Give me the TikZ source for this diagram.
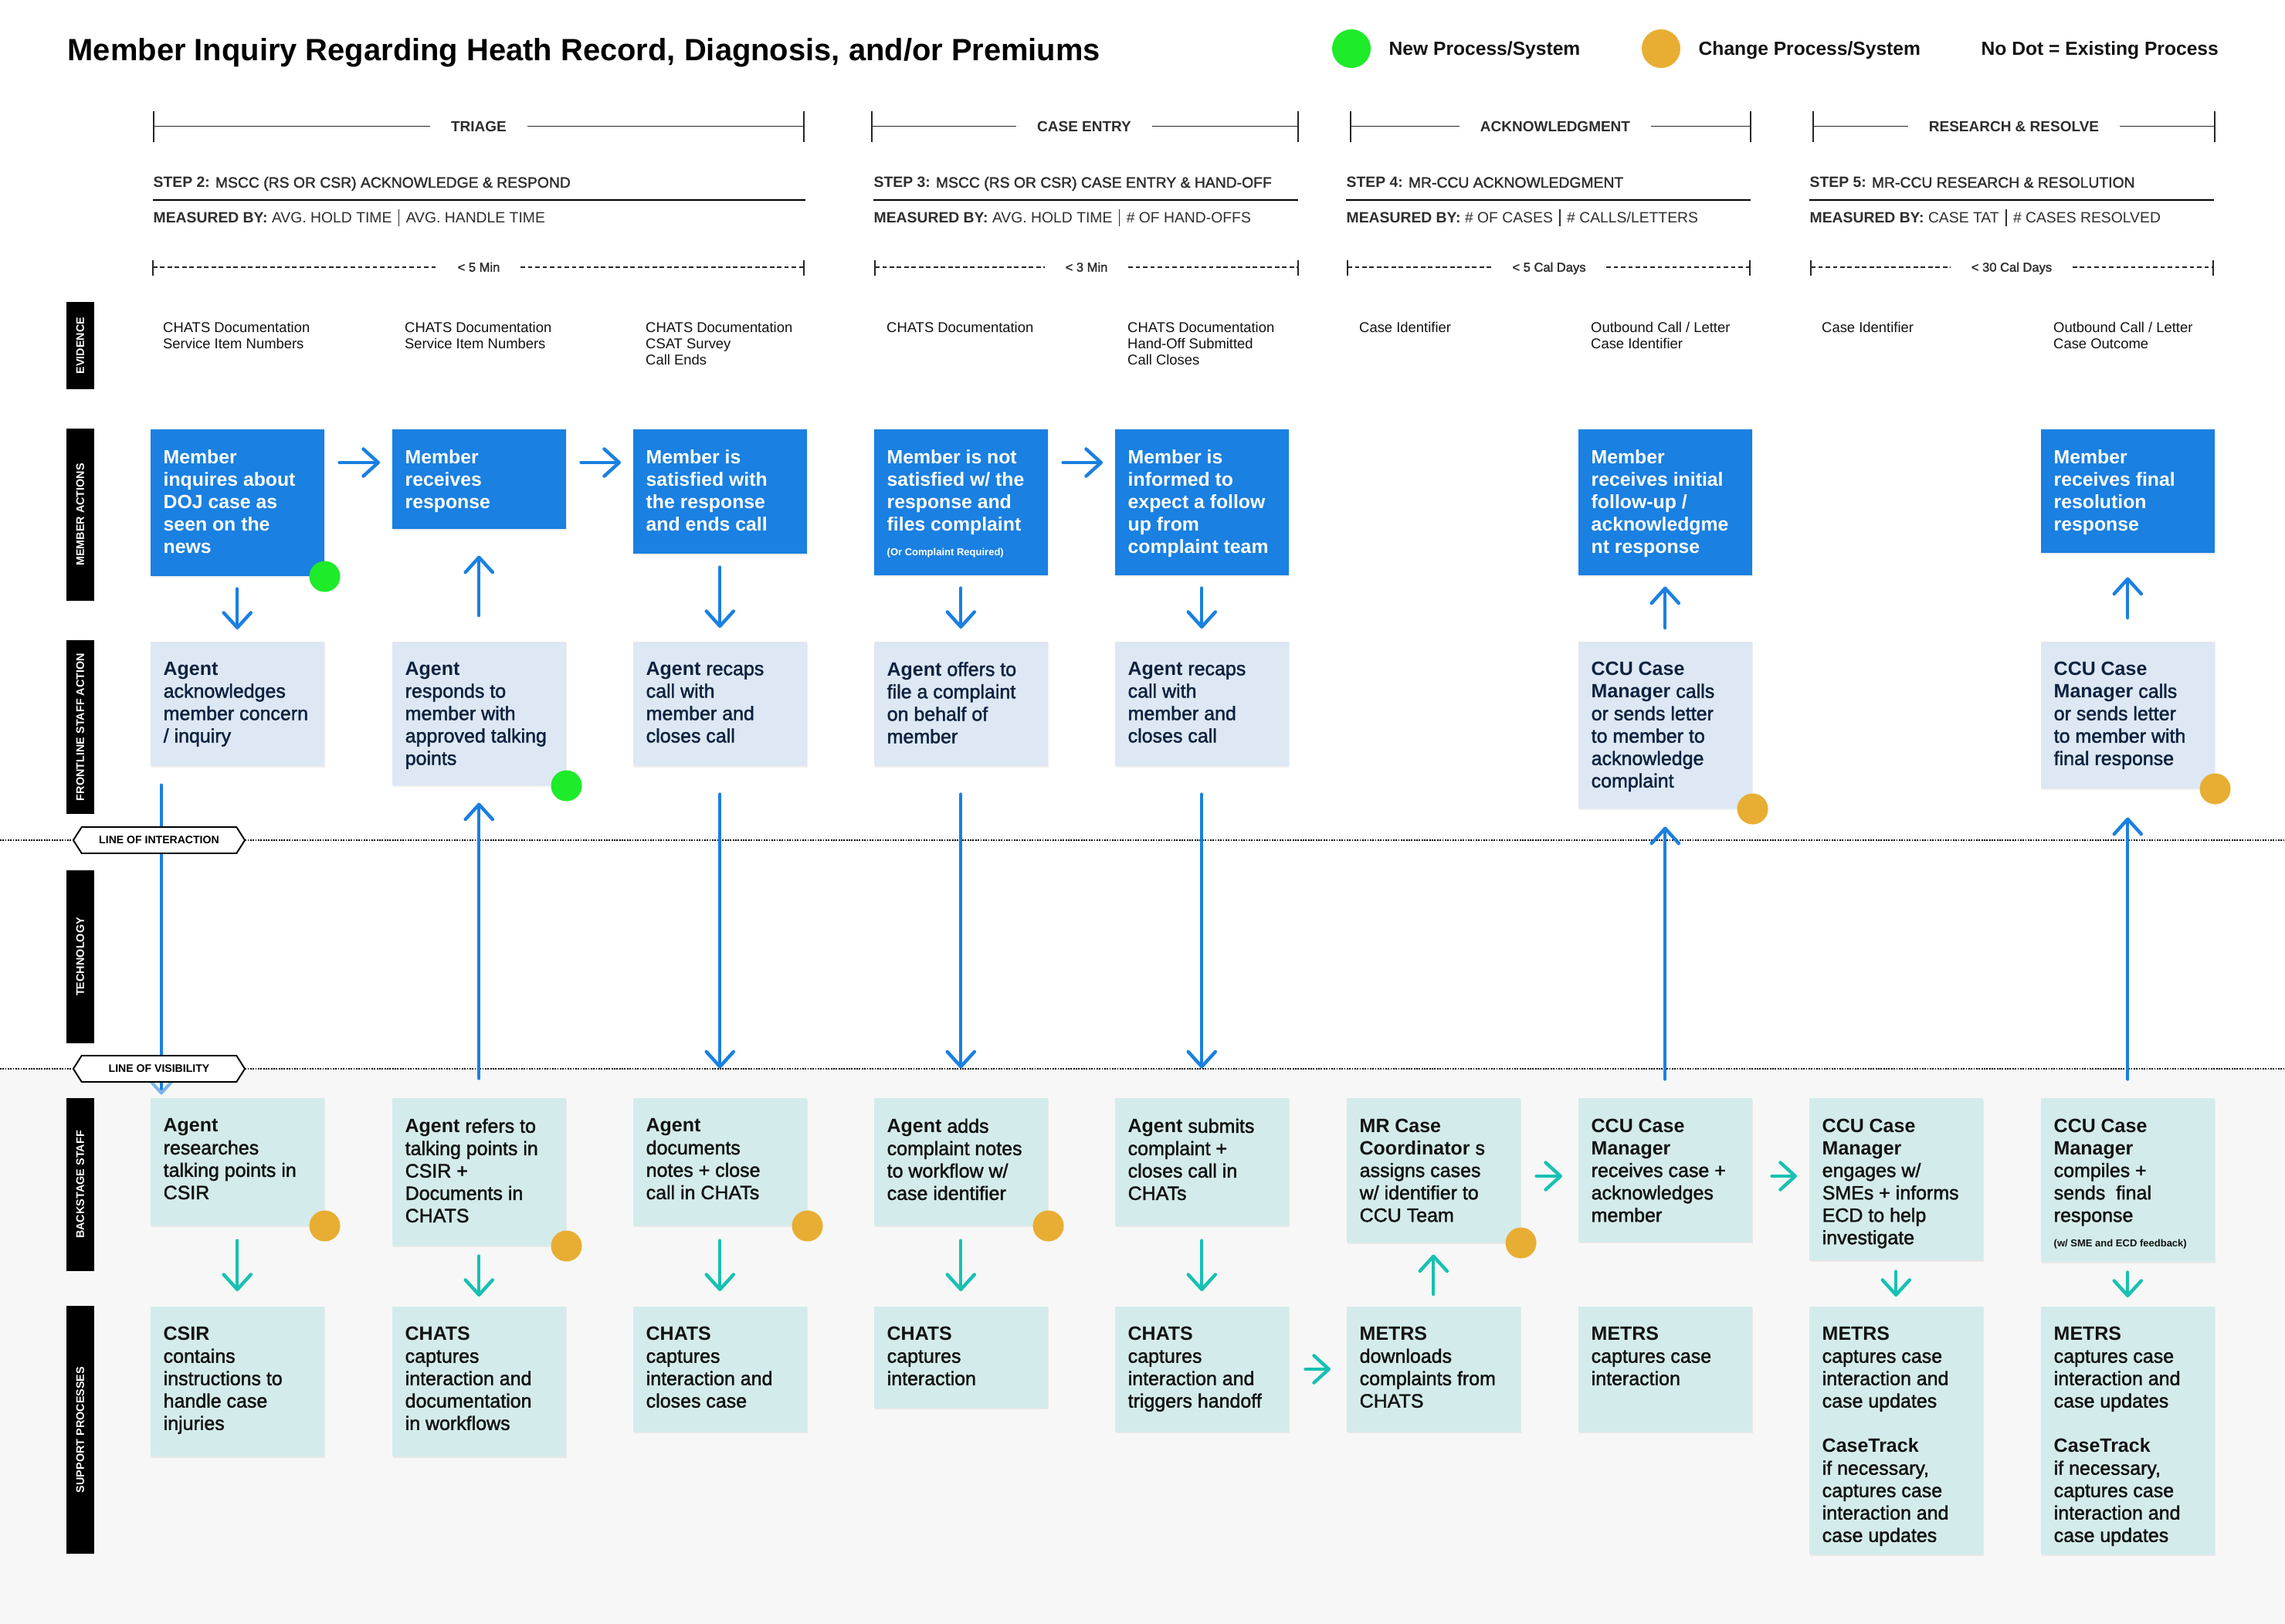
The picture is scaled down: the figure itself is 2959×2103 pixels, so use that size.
\documentclass[tikz,border=0pt]{standalone}
\usepackage{fontspec}
\setmainfont{Liberation Sans}
\newfontfamily\medium{Liberation Sans}[FakeBold=1.7]
\usetikzlibrary{arrows.meta,shapes.symbols,shadows}

\definecolor{memblue}{HTML}{1A80E1}
\definecolor{frontbg}{HTML}{DDE8F4}
\definecolor{backbg}{HTML}{D3ECEB}
\definecolor{flowteal}{HTML}{17C1B3}
\definecolor{tiplight}{HTML}{7DB4EB}
\definecolor{newgreen}{HTML}{1EEB2A}
\definecolor{chgorange}{HTML}{E8AE33}
\definecolor{navytext}{HTML}{0D2240}
\definecolor{inktext}{HTML}{121212}
\definecolor{softgray}{HTML}{F7F7F7}
\definecolor{headgray}{HTML}{2E2E2E}

\newcommand\fsz[2]{\fontsize{#1}{#2}\selectfont}
\newcommand\ld[1]{{\normalfont\bfseries #1}}
\newcommand\barsep{\hspace{2.4pt}\rule[-1.3pt]{0.4pt}{6pt}\hspace{2.4pt}}

\begin{document}
\begin{tikzpicture}[x=0.01cm,y=-0.01cm,
  boxbase/.style={anchor=north west, minimum width=2.25cm, inner sep=0,
    drop shadow={opacity=0.12, shadow xshift=0.3pt, shadow yshift=-0.5pt}},
  memberbox/.style={boxbase, fill=memblue},
  frontbox/.style={boxbase, fill=frontbg},
  backbox/.style={boxbase, fill=backbg},
  boxtext/.style={anchor=north west, inner sep=0, align=left, font=\medium\fsz{7.1}{8.25}},
  membertext/.style={boxtext, text=white, font=\bfseries\fsz{7.05}{8.25}},
  fronttext/.style={boxtext, text=navytext},
  backtext/.style={boxtext, text=inktext},
  smalltext/.style={anchor=base west, inner sep=0, font=\bfseries\fsz{3.7}{4.5}},
  flow/.style={line width=1.25pt, line cap=round,
    -{Straight Barb[length=5.5pt,width=10pt,line width=1.25pt,round]}},
  blueflow/.style={flow, draw=memblue},
  tealflow/.style={flow, draw=flowteal},
  dot/.style={circle, inner sep=0, minimum size=0.4cm},
  lane/.style={fill=black, text=white, rotate=90, minimum height=0.36cm, inner sep=0,
    font=\bfseries\fsz{4.1}{5}},
  hexlabel/.style={signal, signal to=east and west, signal pointer angle=115,
    draw=black, line width=0.55pt, fill=white, minimum width=2.22cm,
    minimum height=0.34cm, inner sep=0, font=\bfseries\fsz{4}{5}},
  dotline/.style={line width=0.6pt, dash pattern=on 0.5pt off 0.45pt},
  phase/.style={inner xsep=0.26cm, inner ysep=0, text height=0.135cm, text depth=0pt,
    font=\bfseries\fsz{5.4}{6}, text=headgray},
  duration/.style={inner xsep=0.26cm, inner ysep=0, text height=0.115cm, text depth=0pt,
    font=\medium\fsz{4.7}{5}, text=headgray},
  bracket/.style={line width=0.4pt, draw=black!85},
  dashrule/.style={line width=0.5pt, dash pattern=on 1.6pt off 1.1pt, draw=black!85},
  steptext/.style={anchor=base west, inner sep=0, font=\medium\fsz{5.5}{6.5}, text=headgray},
  measuretext/.style={anchor=base west, inner sep=0, font=\fsz{5.5}{6.5}, text=headgray},
  steprule/.style={line width=0.75pt},
  evidence/.style={anchor=north west, inner sep=0, align=left, font=\fsz{5.24}{6}, text=inktext},
  legendtext/.style={anchor=base west, inner sep=0, font=\bfseries\fsz{7}{8}, text=inktext}
]
\useasboundingbox (0,0) rectangle (2959,2103);
\fill[white] (0,0) rectangle (2959,1384);
\fill[softgray] (0,1384) rectangle (2959,2103);

% ---------- heading and legend ----------
\node[anchor=base west, inner sep=0, font=\bfseries\fsz{11.35}{13}] (title) at (87,79)
  {Member Inquiry Regarding Heath Record, Diagnosis, and/or Premiums};
\node[dot, fill=newgreen, minimum size=0.5cm] (keynew) at (1750,63) {};
\node[legendtext] (keynewtext) at (1798,71.7) {New Process/System};
\node[dot, fill=chgorange, minimum size=0.5cm] (keychg) at (2151,63) {};
\node[legendtext] (keychgtext) at (2199,71.7) {Change Process/System};
\node[legendtext] (keynone) at (2565,71.7) {No Dot = Existing Process};

% ---------- phases ----------
\node[phase] (ph1) at (620,163.5) {TRIAGE};
\draw[bracket] (199,144) -- (199,184) (1041,144) -- (1041,184);
\draw[bracket] (199,163.5) -- (ph1.west) (ph1.east) -- (1041,163.5);
\node[phase] (ph2) at (1404,163.5) {CASE ENTRY};
\draw[bracket] (1129,144) -- (1129,184) (1681,144) -- (1681,184);
\draw[bracket] (1129,163.5) -- (ph2.west) (ph2.east) -- (1681,163.5);
\node[phase] (ph3) at (2014,163.5) {ACKNOWLEDGMENT};
\draw[bracket] (1749,144) -- (1749,184) (2267,144) -- (2267,184);
\draw[bracket] (1749,163.5) -- (ph3.west) (ph3.east) -- (2267,163.5);
\node[phase] (ph4) at (2608,163.5) {RESEARCH \& RESOLVE};
\draw[bracket] (2348,144) -- (2348,184) (2868,144) -- (2868,184);
\draw[bracket] (2348,163.5) -- (ph4.west) (ph4.east) -- (2868,163.5);

% ---------- steps ----------
\node[steptext] (st2) at (198,243) {\ld{STEP 2:} MSCC (RS OR CSR) ACKNOWLEDGE \& RESPOND};
\draw[steprule] (198,259) -- (1043,259);
\node[measuretext] (ms2) at (198,288) {\ld{MEASURED BY:} AVG. HOLD TIME\barsep AVG. HANDLE TIME};
\node[steptext] (st3) at (1131,243) {\ld{STEP 3:} MSCC (RS OR CSR) CASE ENTRY \& HAND-OFF};
\draw[steprule] (1131,259) -- (1681,259);
\node[measuretext] (ms3) at (1131,288) {\ld{MEASURED BY:} AVG. HOLD TIME\barsep \# OF HAND-OFFS};
\node[steptext] (st4) at (1743,243) {\ld{STEP 4:} MR-CCU ACKNOWLEDGMENT};
\draw[steprule] (1743,259) -- (2267,259);
\node[measuretext] (ms4) at (1743,288) {\ld{MEASURED BY:} \# OF CASES\barsep \# CALLS/LETTERS};
\node[steptext] (st5) at (2343,243) {\ld{STEP 5:} MR-CCU RESEARCH \& RESOLUTION};
\draw[steprule] (2343,259) -- (2867,259);
\node[measuretext] (ms5) at (2343,288) {\ld{MEASURED BY:} CASE TAT\barsep \# CASES RESOLVED};

% ---------- target durations ----------
\node[duration] (du2) at (620,346) {< 5 Min};
\draw[bracket] (198,337) -- (198,357) (1041,337) -- (1041,357);
\draw[dashrule] (198,346) -- (du2.west) (du2.east) -- (1041,346);
\node[duration] (du3) at (1407,346) {< 3 Min};
\draw[bracket] (1133,337) -- (1133,357) (1681,337) -- (1681,357);
\draw[dashrule] (1133,346) -- (du3.west) (du3.east) -- (1681,346);
\node[duration] (du4) at (2006,346) {< 5 Cal Days};
\draw[bracket] (1745,337) -- (1745,357) (2266,337) -- (2266,357);
\draw[dashrule] (1745,346) -- (du4.west) (du4.east) -- (2266,346);
\node[duration] (du5) at (2605,346) {< 30 Cal Days};
\draw[bracket] (2345,337) -- (2345,357) (2866,337) -- (2866,357);
\draw[dashrule] (2345,346) -- (du5.west) (du5.east) -- (2866,346);

% ---------- lane labels ----------
\node[lane, minimum width=1.13cm] (laneev) at (104,447.5) {EVIDENCE};
\node[lane, minimum width=2.23cm] (lanemem) at (104,666.5) {MEMBER ACTIONS};
\node[lane, minimum width=2.25cm] (lanefront) at (104,941.5) {FRONTLINE STAFF ACTION};
\node[lane, minimum width=2.24cm] (lanetech) at (104,1239) {TECHNOLOGY};
\node[lane, minimum width=2.24cm] (laneback) at (104,1534) {BACKSTAGE STAFF};
\node[lane, minimum width=3.21cm] (lanesup) at (104,1851.5) {SUPPORT PROCESSES};

% ---------- evidence ----------
\node[evidence] (ev1) at (210.5,416.5) {CHATS Documentation\\Service Item Numbers};
\node[evidence] (ev2) at (523.5,416.5) {CHATS Documentation\\Service Item Numbers};
\node[evidence] (ev3) at (835.5,416.5) {CHATS Documentation\\CSAT Survey\\Call Ends};
\node[evidence] (ev4) at (1147.5,416.5) {CHATS Documentation};
\node[evidence] (ev5) at (1459.5,416.5) {CHATS Documentation\\Hand-Off Submitted\\Call Closes};
\node[evidence] (ev6) at (1759.5,416.5) {Case Identifier};
\node[evidence] (ev7) at (2059.5,416.5) {Outbound Call / Letter\\Case Identifier};
\node[evidence] (ev8) at (2358.5,416.5) {Case Identifier};
\node[evidence] (ev9) at (2658.5,416.5) {Outbound Call / Letter\\Case Outcome};

% ---------- boxes ----------
\node[memberbox, minimum height=1.90cm] (m1) at (194,555) {};
\node[memberbox, minimum height=1.29cm] (m2) at (507,555) {};
\node[memberbox, minimum height=1.61cm] (m3) at (819,555) {};
\node[memberbox, minimum height=1.89cm] (m4) at (1131,555) {};
\node[memberbox, minimum height=1.89cm] (m5) at (1443,555) {};
\node[memberbox, minimum height=1.89cm] (m7) at (2043,555) {};
\node[memberbox, minimum height=1.60cm] (m9) at (2642,555) {};

\node[frontbox, minimum height=1.61cm] (f1) at (194,830) {};
\node[frontbox, minimum height=1.86cm] (f2) at (507,830) {};
\node[frontbox, minimum height=1.61cm] (f3) at (819,830) {};
\node[frontbox, minimum height=1.61cm] (f4) at (1131,830) {};
\node[frontbox, minimum height=1.61cm] (f5) at (1443,830) {};
\node[frontbox, minimum height=2.16cm] (f7) at (2043,830) {};
\node[frontbox, minimum height=1.90cm] (f9) at (2642,830) {};

% lines of interaction and visibility, full width
\draw[dotline] (0,1088) -- (2959,1088);
\draw[dotline] (0,1384) -- (2959,1384);

\node[backbox, minimum height=1.645cm] (b1) at (194,1421.5) {};
\node[backbox, minimum height=1.905cm] (b2) at (507,1421.5) {};
\node[backbox, minimum height=1.645cm] (b3) at (819,1421.5) {};
\node[backbox, minimum height=1.645cm] (b4) at (1131,1421.5) {};
\node[backbox, minimum height=1.645cm] (b5) at (1443,1421.5) {};
\node[backbox, minimum height=1.865cm] (b6) at (1743,1421.5) {};
\node[backbox, minimum height=1.855cm] (b7) at (2043,1421.5) {};
\node[backbox, minimum height=2.095cm] (b8) at (2342,1421.5) {};
\node[backbox, minimum height=2.115cm] (b9) at (2642,1421.5) {};

\node[backbox, minimum height=1.94cm] (s1) at (194,1691) {};
\node[backbox, minimum height=1.94cm] (s2) at (507,1691) {};
\node[backbox, minimum height=1.625cm] (s3) at (819,1691) {};
\node[backbox, minimum height=1.31cm] (s4) at (1131,1691) {};
\node[backbox, minimum height=1.625cm] (s5) at (1443,1691) {};
\node[backbox, minimum height=1.625cm] (s6) at (1743,1691) {};
\node[backbox, minimum height=1.625cm] (s7) at (2043,1691) {};
\node[backbox, minimum height=3.21cm] (s8) at (2342,1691) {};
\node[backbox, minimum height=3.21cm] (s9) at (2642,1691) {};

% hand-off into backstage research, passing behind the line labels
\draw[draw=memblue, line width=1.15pt, line cap=round,
  -{Straight Barb[length=5.5pt,width=10pt,line width=1.15pt,round,color=tiplight]}]
  ([shift={(15,24)}]f1.south west) -- ([shift={(15,-4)}]b1.north west);

\node[hexlabel] (interaction) at (206,1088) {LINE OF INTERACTION};
\node[hexlabel] (visibility) at (206,1384) {LINE OF VISIBILITY};

% ---------- box texts ----------
\node[membertext] at ([shift={(17,26.5)}]m1.north west) {Member\\inquires about\\DOJ case as\\seen on the\\news};
\node[membertext] at ([shift={(17,26.5)}]m2.north west) {Member\\receives\\response};
\node[membertext] at ([shift={(17,26.5)}]m3.north west) {Member is\\satisfied with\\the response\\and ends call};
\node[membertext] at ([shift={(17,26.5)}]m4.north west) {Member is not\\satisfied w/ the\\response and\\files complaint};
\node[smalltext, text=white] at ([shift={(17,164.5)}]m4.north west) {(Or Complaint Required)};
\node[membertext] at ([shift={(17,26.5)}]m5.north west) {Member is\\informed to\\expect a follow\\up from\\complaint team};
\node[membertext] at ([shift={(17,26.5)}]m7.north west) {Member\\receives initial\\follow-up /\\acknowledgme\\nt response};
\node[membertext] at ([shift={(17,26.5)}]m9.north west) {Member\\receives final\\resolution\\response};

\node[fronttext] at ([shift={(17,26.5)}]f1.north west) {\ld{Agent}\\acknowledges\\member concern\\/ inquiry};
\node[fronttext] at ([shift={(17,26.5)}]f2.north west) {\ld{Agent}\\responds to\\member with\\approved talking\\points};
\node[fronttext] at ([shift={(17,26.5)}]f3.north west) {\ld{Agent} recaps\\call with\\member and\\closes call};
\node[fronttext] at ([shift={(17,26.5)}]f4.north west) {\ld{Agent} offers to\\file a complaint\\on behalf of\\member};
\node[fronttext] at ([shift={(17,26.5)}]f5.north west) {\ld{Agent} recaps\\call with\\member and\\closes call};
\node[fronttext] at ([shift={(17,26.5)}]f7.north west) {\ld{CCU Case}\\\ld{Manager} calls\\or sends letter\\to member to\\acknowledge\\complaint};
\node[fronttext] at ([shift={(17,26.5)}]f9.north west) {\ld{CCU Case}\\\ld{Manager} calls\\or sends letter\\to member with\\final response};

\node[backtext] at ([shift={(17,26.5)}]b1.north west) {\ld{Agent}\\researches\\talking points in\\CSIR};
\node[backtext] at ([shift={(17,26.5)}]b2.north west) {\ld{Agent} refers to\\talking points in\\CSIR +\\Documents in\\CHATS};
\node[backtext] at ([shift={(17,26.5)}]b3.north west) {\ld{Agent}\\documents\\notes + close\\call in CHATs};
\node[backtext] at ([shift={(17,26.5)}]b4.north west) {\ld{Agent} adds\\complaint notes\\to workflow w/\\case identifier};
\node[backtext] at ([shift={(17,26.5)}]b5.north west) {\ld{Agent} submits\\complaint +\\closes call in\\CHATs};
\node[backtext] at ([shift={(17,26.5)}]b6.north west) {\ld{MR Case}\\\ld{Coordinator} s\\assigns cases\\w/ identifier to\\CCU Team};
\node[backtext] at ([shift={(17,26.5)}]b7.north west) {\ld{CCU Case}\\\ld{Manager}\\receives case +\\acknowledges\\member};
\node[backtext] at ([shift={(17,26.5)}]b8.north west) {\ld{CCU Case}\\\ld{Manager}\\engages w/\\SMEs + informs\\ECD to help\\investigate};
\node[backtext] at ([shift={(17,26.5)}]b9.north west) {\ld{CCU Case}\\\ld{Manager}\\compiles +\\sends \ final\\response};
\node[smalltext, text=inktext] at ([shift={(17,193)}]b9.north west) {(w/ SME and ECD feedback)};

\node[backtext] at ([shift={(17,26.5)}]s1.north west) {\ld{CSIR}\\contains\\instructions to\\handle case\\injuries};
\node[backtext] at ([shift={(17,26.5)}]s2.north west) {\ld{CHATS}\\captures\\interaction and\\documentation\\in workflows};
\node[backtext] at ([shift={(17,26.5)}]s3.north west) {\ld{CHATS}\\captures\\interaction and\\closes case};
\node[backtext] at ([shift={(17,26.5)}]s4.north west) {\ld{CHATS}\\captures\\interaction};
\node[backtext] at ([shift={(17,26.5)}]s5.north west) {\ld{CHATS}\\captures\\interaction and\\triggers handoff};
\node[backtext] at ([shift={(17,26.5)}]s6.north west) {\ld{METRS}\\downloads\\complaints from\\CHATS};
\node[backtext] at ([shift={(17,26.5)}]s7.north west) {\ld{METRS}\\captures case\\interaction};
\node[backtext] at ([shift={(17,26.5)}]s8.north west) {\ld{METRS}\\captures case\\interaction and\\case updates\\[8.25pt]\ld{CaseTrack}\\if necessary,\\captures case\\interaction and\\case updates};
\node[backtext] at ([shift={(17,26.5)}]s9.north west) {\ld{METRS}\\captures case\\interaction and\\case updates\\[8.25pt]\ld{CaseTrack}\\if necessary,\\captures case\\interaction and\\case updates};

% ---------- member flow ----------
\draw[blueflow] ([shift={(19,44)}]m1.north east) -- ([shift={(-15,44)}]m2.north west);
\draw[blueflow] ([shift={(19,44)}]m2.north east) -- ([shift={(-15,44)}]m3.north west);
\draw[blueflow] ([shift={(19,44)}]m4.north east) -- ([shift={(-15,44)}]m5.north west);

\draw[blueflow, shorten <=0.16cm, shorten >=0.15cm] (m1.south) -- (f1.north);
\draw[blueflow, shorten <=0.33cm, shorten >=0.34cm] (f2.north) -- (m2.south);
\draw[blueflow, shorten <=0.17cm, shorten >=0.17cm] (m3.south) -- (f3.north);
\draw[blueflow, shorten <=0.16cm, shorten >=0.16cm] (m4.south) -- (f4.north);
\draw[blueflow, shorten <=0.16cm, shorten >=0.16cm] (m5.south) -- (f5.north);
\draw[blueflow, shorten <=0.17cm, shorten >=0.14cm] (f7.north) -- (m7.south);
\draw[blueflow, shorten <=0.30cm, shorten >=0.31cm] (f9.north) -- (m9.south);

% ---------- frontline to backstage ----------
\draw[blueflow, shorten <=0.25cm, shorten >=0.22cm] (b2.north) -- (f2.south);
\draw[blueflow, shorten <=0.36cm, shorten >=0.38cm] (f3.south) -- (b3.north);
\draw[blueflow, shorten <=0.36cm, shorten >=0.38cm] (f4.south) -- (b4.north);
\draw[blueflow, shorten <=0.36cm, shorten >=0.38cm] (f5.south) -- (b5.north);
\draw[blueflow, shorten <=0.24cm, shorten >=0.23cm] (b7.north) -- (f7.south);
\draw[blueflow, shorten <=0.24cm, shorten >=0.37cm] (b9.north) -- (f9.south);

% ---------- backstage to support ----------
\draw[tealflow, shorten <=0.19cm, shorten >=0.19cm] (b1.south) -- (s1.north);
\draw[tealflow, shorten <=0.13cm, shorten >=0.12cm] (b2.south) -- (s2.north);
\draw[tealflow, shorten <=0.19cm, shorten >=0.19cm] (b3.south) -- (s3.north);
\draw[tealflow, shorten <=0.19cm, shorten >=0.19cm] (b4.south) -- (s4.north);
\draw[tealflow, shorten <=0.19cm, shorten >=0.19cm] (b5.south) -- (s5.north);
\draw[tealflow, shorten <=0.15cm, shorten >=0.15cm] (s6.north) -- (b6.south);
\draw[tealflow, shorten <=0.14cm, shorten >=0.12cm] (b8.south) -- (s8.north);
\draw[tealflow, shorten <=0.13cm, shorten >=0.11cm] (b9.south) -- (s9.north);
\draw[tealflow] ([shift={(20,101.5)}]b6.north east) -- ([shift={(-20,101.5)}]b7.north west);
\draw[tealflow] ([shift={(25,101.5)}]b7.north east) -- ([shift={(-15,101.5)}]b8.north west);
\draw[tealflow] ([shift={(21,82)}]s5.north east) -- ([shift={(-20,82)}]s6.north west);

% ---------- status dots ----------
\node[dot, fill=newgreen] (dm1) at (m1.south east) {};
\node[dot, fill=newgreen] (df2) at (f2.south east) {};
\node[dot, fill=chgorange] (df7) at (f7.south east) {};
\node[dot, fill=chgorange] (df9) at (f9.south east) {};
\node[dot, fill=chgorange] (db1) at (b1.south east) {};
\node[dot, fill=chgorange] (db2) at (b2.south east) {};
\node[dot, fill=chgorange] (db3) at (b3.south east) {};
\node[dot, fill=chgorange] (db4) at (b4.south east) {};
\node[dot, fill=chgorange] (db6) at (b6.south east) {};
\end{tikzpicture}
\end{document}
